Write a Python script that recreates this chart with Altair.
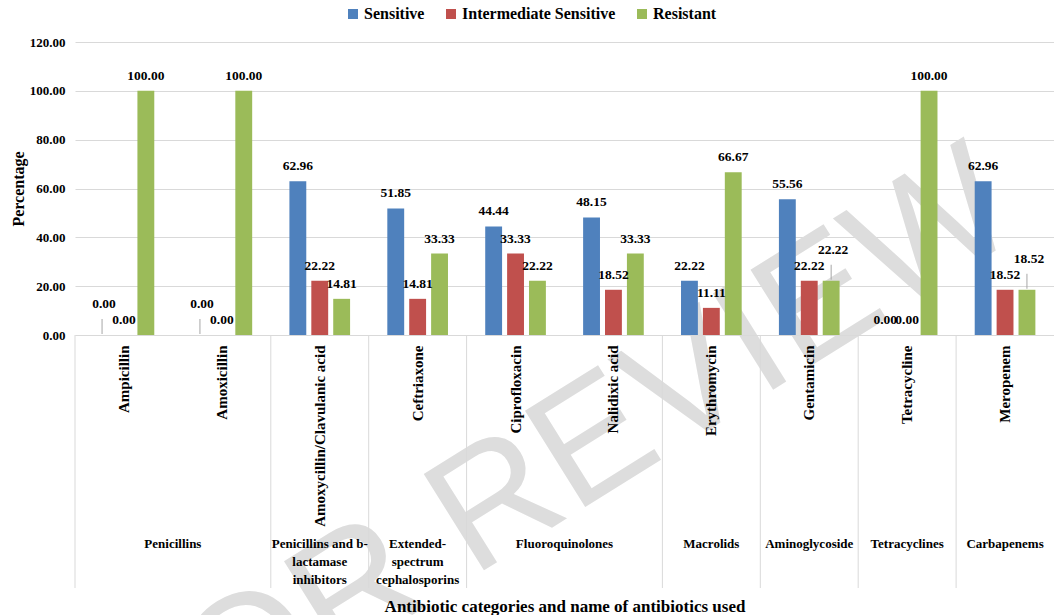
import altair as alt
import pandas as pd

# Antibiotics in plotting order and the category each belongs to
antibiotics = [
    "Ampicillin", "Amoxicillin", "Amoxycillin/Clavulanic acid", "Ceftriaxone",
    "Ciprofloxacin", "Nalidixic acid", "Erythromycin", "Gentamicin",
    "Tetracycline", "Meropenem",
]
categories = [
    "Penicillins", "Penicillins",
    "Penicillins and b-\nlactamase\ninhibitors",
    "Extended-\nspectrum\ncephalosporins",
    "Fluoroquinolones", "Fluoroquinolones",
    "Macrolids", "Aminoglycoside", "Tetracyclines", "Carbapenems",
]

series = ["Sensitive", "Intermediate Sensitive", "Resistant"]
colors = ["#4F81BD", "#C0504D", "#9BBB59"]

sensitive = [0.00, 0.00, 62.96, 51.85, 44.44, 48.15, 22.22, 55.56, 0.00, 62.96]
intermediate = [0.00, 0.00, 22.22, 14.81, 33.33, 18.52, 11.11, 22.22, 0.00, 18.52]
resistant = [100.00, 100.00, 14.81, 33.33, 22.22, 33.33, 66.67, 22.22, 100.00, 18.52]

# value labels that sit higher with a leader line so they do not collide
lifted = [
    ("Ampicillin", "Sensitive"), ("Amoxicillin", "Sensitive"),
    ("Gentamicin", "Resistant"), ("Meropenem", "Resistant"),
]

rows = []
for name, values in zip(series, [sensitive, intermediate, resistant]):
    for ab, v in zip(antibiotics, values):
        rows.append({"antibiotic": ab, "series": name, "value": v,
                     "lifted": (ab, name) in lifted})
df = pd.DataFrame(rows)

# first antibiotic of each category, with the number of antibiotics in it
groups = []
for i, (ab, cat) in enumerate(zip(antibiotics, categories)):
    if i == 0 or categories[i - 1] != cat:
        groups.append({"antibiotic": ab, "category": cat,
                       "size": categories.count(cat)})
gdf = pd.DataFrame(groups)

FONT = "Liberation Serif"
GRID = "#d9d9d9"
W, H = 979, 293

x_enc = alt.X(
    "antibiotic:N", sort=antibiotics,
    scale=alt.Scale(paddingInner=0, paddingOuter=0),
    axis=alt.Axis(
        title="Antibiotic categories and name of antibiotics used",
        titleFont=FONT, titleFontSize=17, titleFontWeight="bold", titleColor="#000",
        titleY=276, titleBaseline="alphabetic",
        labelAngle=270, labelAlign="right", labelBaseline="middle",
        labelFont=FONT, labelFontSize=15, labelFontWeight="bold", labelColor="#000",
        labelPadding=10, labelLimit=400,
        ticks=False, domainColor=GRID, grid=False, zindex=1,
    ),
)
off_enc = alt.XOffset(
    "series:N", sort=series,
    scale=alt.Scale(paddingInner=0.23, paddingOuter=0.85),
)
y_enc = alt.Y(
    "value:Q",
    scale=alt.Scale(domain=[0, 120]),
    axis=alt.Axis(
        values=[0, 20, 40, 60, 80, 100, 120], format=".2f",
        title="Percentage", titleFont=FONT, titleFontSize=16, titleFontWeight="bold",
        titleColor="#000", titleAngle=270, titleX=-57, titleY=H / 2,
        titleAlign="center", titleBaseline="middle",
        labelFont=FONT, labelFontSize=13, labelFontWeight="bold", labelColor="#000",
        labelPadding=10, ticks=False, domain=False,
        gridColor=GRID, gridWidth=1,
    ),
)

base = alt.Chart(df)

watermark = alt.Chart(pd.DataFrame({"t": ["FOR REVIEW"]})).mark_text(
    angle=328, fontSize=165, font="Liberation Sans", color="#dddddd",
    align="center", baseline="middle",
).encode(text="t:N", x=alt.value(480), y=alt.value(425))

bars = base.mark_bar().encode(
    x=x_enc, xOffset=off_enc, y=y_enc,
    color=alt.Color(
        "series:N", sort=series,
        scale=alt.Scale(domain=series, range=colors),
        legend=alt.Legend(
            title=None, orient="none", direction="horizontal",
            legendX=270, legendY=-36,
            labelFont=FONT, labelFontSize=16, labelFontWeight="bold", labelColor="#000",
            labelLimit=400,
            symbolType="square", symbolSize=100, symbolStrokeWidth=0,
            columnPadding=18, labelOffset=3,
        ),
    ),
)

label_style = dict(font=FONT, fontSize=13.5, fontWeight="bold", color="#000",
                   align="center", baseline="middle")

labels = base.transform_filter("!datum.lifted").mark_text(dy=-15, **label_style).encode(
    x=alt.X("antibiotic:N", sort=antibiotics), xOffset=off_enc,
    y="value:Q", text=alt.Text("value:Q", format=".2f"),
)
labels_up = base.transform_filter("datum.lifted").mark_text(dy=-31, dx=2, **label_style).encode(
    x=alt.X("antibiotic:N", sort=antibiotics), xOffset=off_enc,
    y="value:Q", text=alt.Text("value:Q", format=".2f"),
)
leaders = base.transform_filter("datum.lifted").mark_rule(
    color="#a6a6a6", strokeWidth=1, yOffset=-1, y2Offset=-16,
).encode(
    x=alt.X("antibiotic:N", sort=antibiotics), xOffset=off_enc,
    y="value:Q", y2="value:Q",
)

# category separators running down through the label area
dividers = alt.Chart(gdf).mark_rule(color=GRID, strokeWidth=1).encode(
    x=alt.X("antibiotic:N", sort=antibiotics, bandPosition=0),
    y=alt.value(H), y2=alt.value(H + 253),
)

cat_style = dict(font=FONT, fontSize=13, fontWeight="bold", color="#000",
                 align="center", baseline="top", lineBreak="\n", lineHeight=18)
cat_pair = alt.Chart(gdf).transform_filter("datum.size == 2").mark_text(**cat_style).encode(
    x=alt.X("antibiotic:N", sort=antibiotics, bandPosition=1),
    y=alt.value(H + 203), text="category:N",
)
cat_single = alt.Chart(gdf).transform_filter("datum.size == 1").mark_text(**cat_style).encode(
    x=alt.X("antibiotic:N", sort=antibiotics, bandPosition=0.5),
    y=alt.value(H + 203), text="category:N",
)

chart = alt.layer(
    watermark, bars, labels, labels_up, leaders, dividers, cat_pair, cat_single,
).properties(
    width=W, height=H,
    autosize=alt.AutoSizeParams(type="none"),
    padding={"left": 75, "top": 42, "right": 0, "bottom": 280},
).configure_view(stroke=None)

chart.save("out.html", embed_options={"renderer": "svg", "actions": False})
